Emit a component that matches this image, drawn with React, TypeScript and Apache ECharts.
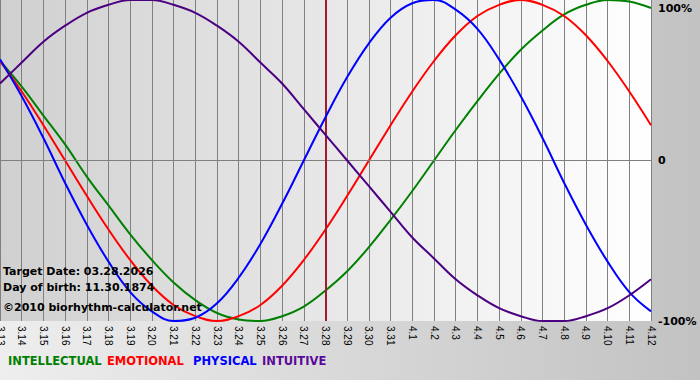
import React, { useEffect, useRef } from "react";
import * as echarts from "echarts";

const days = [
  "3.13", "3.14", "3.15", "3.16", "3.17", "3.18", "3.19", "3.20", "3.21", "3.22",
  "3.23", "3.24", "3.25", "3.26", "3.27", "3.28", "3.29", "3.30", "3.31", "4.1",
  "4.2", "4.3", "4.4", "4.5", "4.6", "4.7", "4.8", "4.9", "4.10", "4.11", "4.12",
];

const intellectual = [
  0.62, 0.46, 0.28, 0.1, -0.1, -0.28, -0.46, -0.62, -0.76, -0.87,
  -0.95, -0.99, -1.0, -0.97, -0.91, -0.81, -0.69, -0.54, -0.37, -0.19,
  0.0, 0.19, 0.37, 0.54, 0.69, 0.81, 0.91, 0.97, 1.0, 0.99, 0.95,
];
const emotional = [
  0.62, 0.43, 0.22, 0.0, -0.22, -0.43, -0.62, -0.78, -0.9, -0.97,
  -1.0, -0.97, -0.9, -0.78, -0.62, -0.43, -0.22, 0.0, 0.22, 0.43,
  0.62, 0.78, 0.9, 0.97, 1.0, 0.97, 0.9, 0.78, 0.62, 0.43, 0.22,
];
const physical = [
  0.63, 0.4, 0.14, -0.14, -0.4, -0.63, -0.82, -0.94, -1.0, -0.98,
  -0.89, -0.73, -0.52, -0.27, 0.0, 0.27, 0.52, 0.73, 0.89, 0.98,
  1.0, 0.94, 0.82, 0.63, 0.4, 0.14, -0.14, -0.4, -0.63, -0.82, -0.94,
];
const intuitive = [
  0.48, 0.61, 0.74, 0.84, 0.92, 0.97, 1.0, 1.0, 0.97, 0.92,
  0.84, 0.74, 0.61, 0.48, 0.32, 0.16, 0.0, -0.16, -0.32, -0.48,
  -0.61, -0.74, -0.84, -0.92, -0.97, -1.0, -1.0, -0.97, -0.92, -0.84, -0.74,
];

const targetDay = "3.28";
const infoLines = ["Target Date: 03.28.2026", "Day of birth: 11.30.1874", "\u00a92010 biorhythm-calculator.net"];
const legendItems = [
  { name: "INTELLECTUAL", color: "#008000" },
  { name: "EMOTIONAL", color: "#ff0000" },
  { name: "PHYSICAL", color: "#0000ff" },
  { name: "INTUITIVE", color: "#5a0a9a" },
];
const lineColors = ["#008000", "#ff0000", "#0000ff", "#4b0082"];

const FONT = "'DejaVu Sans', Verdana, sans-serif";

export default function App() {
  const ref = useRef<HTMLDivElement>(null);
  useEffect(() => {
    if (!ref.current) return;
    const chart = echarts.init(ref.current, undefined, { renderer: "svg" });
    const seriesData = [intellectual, emotional, physical, intuitive];
    const legendX = [8, 107, 193, 262];
    const option: any = {
      animation: false,
      backgroundColor: {
        type: "linear", x: 0, y: 0, x2: 1, y2: 0,
        colorStops: [
          { offset: 0, color: "#eeeeee" },
          { offset: 1, color: "#c2c2c2" },
        ],
      },
      grid: {
        left: 0, right: 49, top: 0, bottom: 59,
        outerBoundsMode: "none",
        containLabel: false,
        show: true, borderWidth: 0,
        backgroundColor: {
          type: "linear", x: 0, y: 0, x2: 1, y2: 0,
          colorStops: [
            { offset: 0, color: "#d0d0d0" },
            { offset: 1, color: "#ffffff" },
          ],
        },
      },
      xAxis: {
        type: "category",
        data: days,
        boundaryGap: false,
        axisLine: { show: true, lineStyle: { color: "#808080", width: 1 } },
        axisTick: { show: true, length: 5, interval: 0, lineStyle: { color: "#808080" } },
        splitLine: { show: true, interval: 0, lineStyle: { color: "#808080", width: 1 } },
        axisLabel: {
          interval: 0, rotate: -90, margin: 5,
          fontFamily: "'Liberation Sans', Tahoma, sans-serif", fontSize: 10, color: "#000",
        },
      },
      yAxis: {
        type: "value",
        position: "right",
        min: -1, max: 1, interval: 1,
        axisLine: { show: false },
        axisTick: { show: false },
        splitLine: { show: false },
        axisLabel: {
          margin: 7,
          formatter: (v: number) => (v === 1 ? "{top|100%}" : v === 0 ? "{mid|0}" : "{mid|-100%}"),
          rich: {
            top: { fontFamily: FONT, fontWeight: "bold", fontSize: 11, color: "#000", padding: [16, 0, 0, 0] },
            mid: { fontFamily: FONT, fontWeight: "bold", fontSize: 11, color: "#000" },
          },
        },
      },
      series: seriesData.map((d, i) => ({
        type: "line",
        name: legendItems[i].name,
        data: d,
        smooth: 0.4,
        symbol: "none",
        lineStyle: { color: lineColors[i], width: 2 },
        z: 3 + i,
        ...(i === 0
          ? {
              markLine: {
                silent: true,
                symbol: "none",
                label: { show: false },
                data: [
                  { yAxis: 0, lineStyle: { color: "#808080", width: 1, type: "solid" } },
                  { xAxis: targetDay, lineStyle: { color: "#a01c2c", width: 2, type: "solid" } },
                ],
              },
            }
          : {}),
      })),
      graphic: [
        ...infoLines.map((t, i) => ({
          type: "text",
          left: 3,
          top: 266 + i * 16 + (i === 2 ? 4 : 0),
          z: 10,
          style: { text: t, fill: "#000", font: `bold 11px ${FONT}` },
        })),
        ...legendItems.map((it, i) => ({
          type: "text",
          left: legendX[i],
          top: 355,
          style: { text: it.name, fill: it.color, font: `bold 11.5px ${FONT}` },
        })),
      ],
    };
    chart.setOption(option);
    return () => chart.dispose();
  }, []);
  return (
    <div
      ref={ref}
      style={{ position: "fixed", left: 0, top: 0, width: 700, height: 380 }}
    />
  );
}
